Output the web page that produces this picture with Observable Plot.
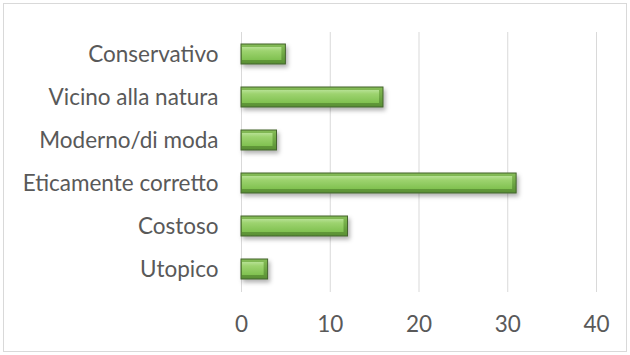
<!DOCTYPE html>
<html>
<head>
<meta charset="utf-8">
<script src="https://cdn.jsdelivr.net/npm/d3@7"></script>
<script src="https://cdn.jsdelivr.net/npm/@observablehq/plot@0.6"></script>
<style>
  html, body { margin: 0; padding: 0; background: #fff; }
  #wrap { position: relative; width: 630px; height: 355px; }
  #border { position: absolute; left: 3px; top: 3px; width: 622px; height: 347px; border: 1px solid #d9d9d9; pointer-events: none; }
</style>
</head>
<body>
<div id="wrap"><div id="border"></div></div>
<script>
// Attributes and counts
const categories = ["Conservativo", "Vicino alla natura", "Moderno/di moda", "Eticamente corretto", "Costoso", "Utopico"];
const counts = [5, 16, 4, 31, 12, 3];
const xTicks = [0, 10, 20, 30, 40];

const data = categories.map((c, i) => ({category: c, value: counts[i]}));

const plot = Plot.plot({
  width: 630,
  height: 355,
  marginLeft: 241,
  marginRight: 34,
  marginTop: 32,
  marginBottom: 63,
  style: {fontFamily: "Lato, 'Open Sans', sans-serif", fontSize: "22.5px", color: "#595959", background: "transparent"},
  x: {domain: [0, 40], ticks: xTicks, label: null},
  y: {domain: categories, label: null, paddingInner: 0.53, paddingOuter: 0.265},
  marks: [
    Plot.gridX(xTicks, {stroke: "#d9d9d9", strokeOpacity: 1}),
    Plot.axisX({ticks: xTicks, tickSize: 0, tickPadding: 24, label: null, fontSize: 22.5}),
    Plot.axisY({tickSize: 0, tickPadding: 23, label: null, fontSize: 22.5}),
    // outer bevel body
    Plot.barX(data, {x: "value", y: "category", fill: "url(#barOuter)", stroke: "#44632d", strokeWidth: 1, className: "bar-outer"}),
    // lighter inner face
    Plot.barX(data, {x: "value", y: "category", fill: "url(#barInner)", insetTop: 3, insetBottom: 4, insetLeft: 1, insetRight: 4, className: "bar-inner"})
  ]
});

const svg = d3.select(plot);
const defs = svg.insert("defs", ":first-child");
const outer = defs.append("linearGradient").attr("id", "barOuter").attr("x1", 0).attr("y1", 0).attr("x2", 0).attr("y2", 1);
outer.append("stop").attr("offset", "0%").attr("stop-color", "#86bd57");
outer.append("stop").attr("offset", "50%").attr("stop-color", "#6ea744");
outer.append("stop").attr("offset", "100%").attr("stop-color", "#588f33");
const inner = defs.append("linearGradient").attr("id", "barInner").attr("x1", 0).attr("y1", 0).attr("x2", 0).attr("y2", 1);
inner.append("stop").attr("offset", "0%").attr("stop-color", "#b6e193");
inner.append("stop").attr("offset", "30%").attr("stop-color", "#9dd36f");
inner.append("stop").attr("offset", "100%").attr("stop-color", "#80c150");
const shadow = defs.append("filter").attr("id", "barShadow").attr("x", "-10%").attr("y", "-30%").attr("width", "130%").attr("height", "180%");
shadow.append("feDropShadow").attr("dx", 2).attr("dy", 3).attr("stdDeviation", 2).attr("flood-color", "#000").attr("flood-opacity", 0.3);
svg.selectAll("g.bar-outer").attr("filter", "url(#barShadow)");

document.getElementById("wrap").prepend(plot);
</script>
</body>
</html>
